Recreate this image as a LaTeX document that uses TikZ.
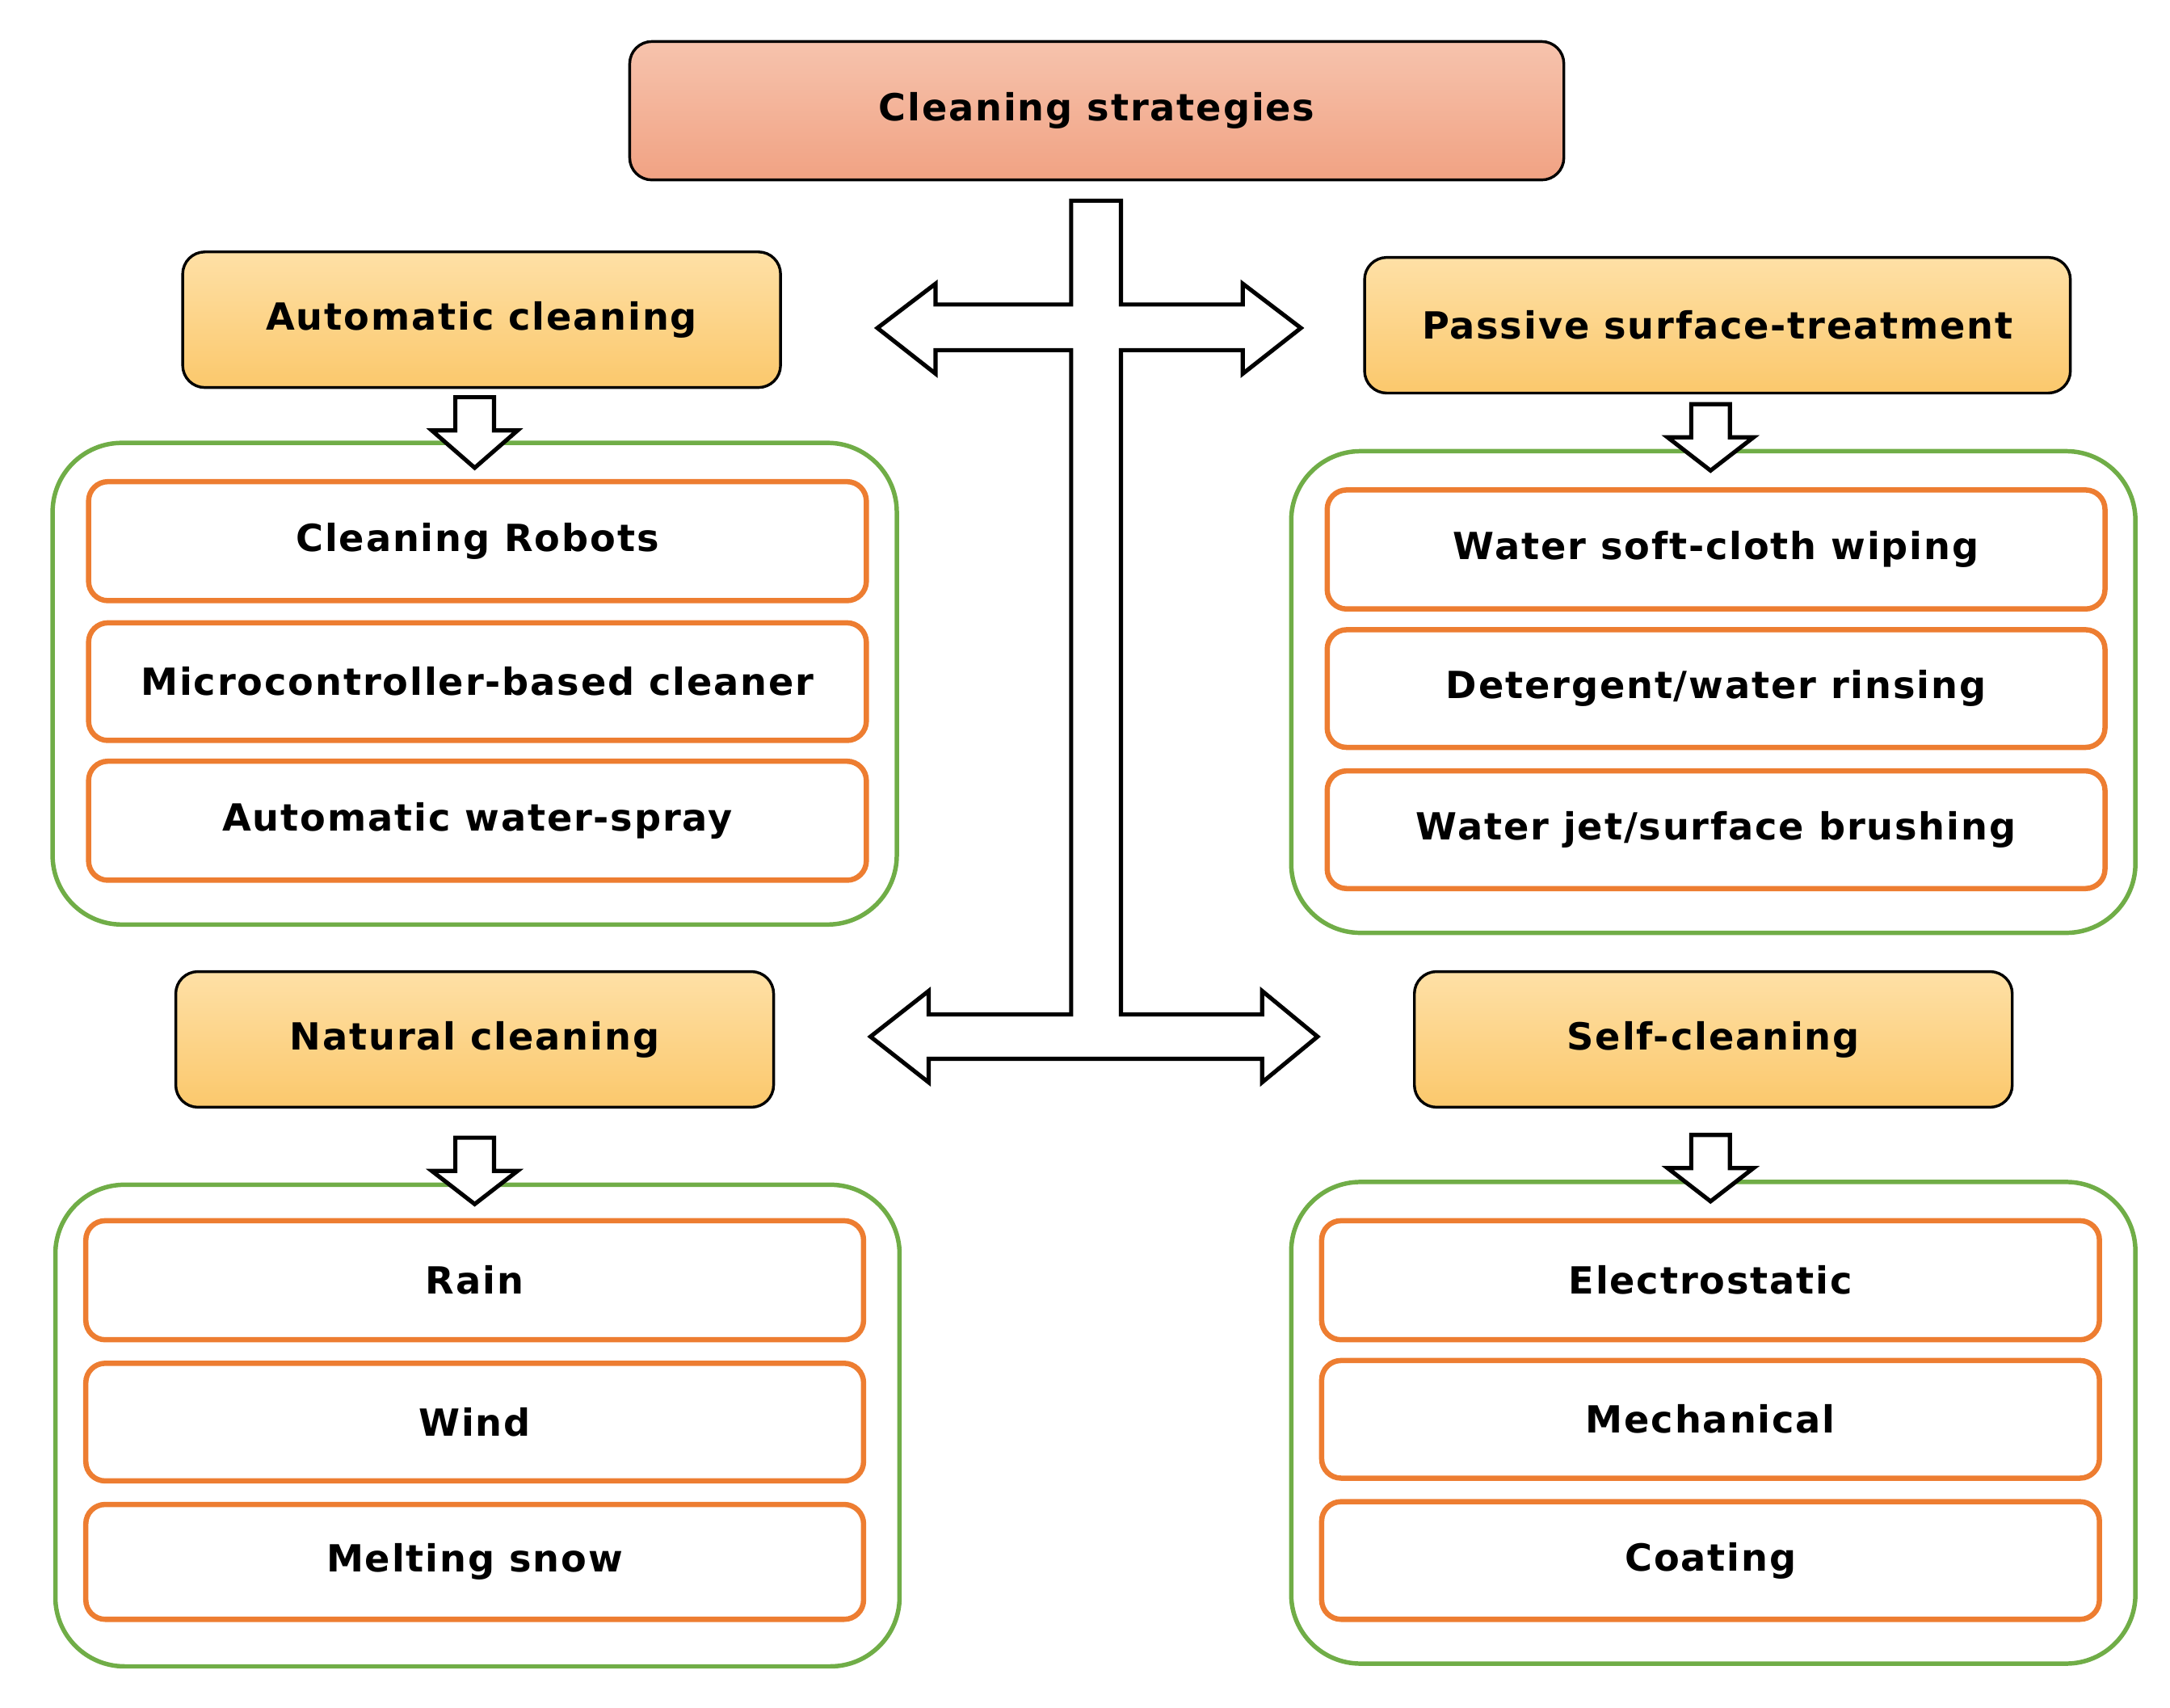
\documentclass[tikz,border=0pt]{standalone}
\usepackage{fontspec}
\setmainfont{DejaVu Sans}[LetterSpace=4]
\begin{document}
\begin{tikzpicture}[x=1pt,y=-1pt,
  hdr/.style={draw=black,line width=2pt,rounded corners=16pt,top color=hdrT,bottom color=hdrB,font=\fontsize{27}{32}\selectfont\bfseries},
  grp/.style={draw=grn,line width=3.2pt,rounded corners=50pt},
  item/.style={draw=org,line width=3.8pt,rounded corners=14pt,fill=white,font=\fontsize{27}{32}\selectfont\bfseries},
  blk/.style={draw=black,line width=3pt,fill=white,line join=miter}]
\definecolor{hdrT}{HTML}{FEE0A6}\definecolor{hdrB}{HTML}{FBC86C}
\definecolor{topT}{HTML}{F6C3AD}\definecolor{topB}{HTML}{F1A283}
\definecolor{grn}{HTML}{70AD47}\definecolor{org}{HTML}{ED7D31}
\useasboundingbox (0,0) rectangle (1568,1234);
\newcommand{\bx}[6]{\node[#1,minimum width=#4-#3,minimum height=#6-#5,inner sep=0pt] (#2) at ({(#3+#4)/2},{(#5+#6)/2})}
\bx{hdr,top color=topT,bottom color=topB}{top}{455}{1130}{30}{130}{Cleaning strategies};
\bx{hdr}{auto}{132}{564}{182}{280}{Automatic cleaning};
\bx{hdr}{pass}{986}{1496}{186}{284}{Passive surface-treatment};
\bx{hdr}{nat}{127}{559}{702}{800}{Natural cleaning};
\bx{hdr}{self}{1022}{1454}{702}{800}{Self-cleaning};
\bx{grp}{g1}{38}{648}{320}{668}{};
\bx{grp}{g2}{933}{1543}{326}{674}{};
\bx{grp}{g3}{40}{650}{856}{1204}{};
\bx{grp}{g4}{933}{1543}{854}{1202}{};
\bx{item}{a1}{64}{626}{348}{434}{Cleaning Robots};
\bx{item}{a2}{64}{626}{450}{535}{Microcontroller-based cleaner};
\bx{item}{a3}{64}{626}{550}{636}{Automatic water-spray};
\bx{item}{b1}{959}{1521}{354}{440}{Water soft-cloth wiping};
\bx{item}{b2}{959}{1521}{455}{540}{Detergent/water rinsing};
\bx{item}{b3}{959}{1521}{557}{642}{Water jet/surface brushing};
\bx{item}{c1}{62}{624}{882}{968}{Rain};
\bx{item}{c2}{62}{624}{985}{1070}{Wind};
\bx{item}{c3}{62}{624}{1087}{1170}{Melting snow};
\bx{item}{d1}{955}{1517}{882}{968}{Electrostatic};
\bx{item}{d2}{955}{1517}{983}{1068}{Mechanical};
\bx{item}{d3}{955}{1517}{1085}{1170}{Coating};
\newcommand{\darr}[3]{\draw[blk] (#1-14,#2) -- (#1+14,#2) -- (#1+14,#2+24) -- (#1+31,#2+24) -- (#1,#3) -- (#1-31,#2+24) -- (#1-14,#2+24) -- cycle;}
\darr{343}{287}{338}
\darr{1236}{292}{340}
\darr{343}{822}{870}
\darr{1236}{820}{868}
\draw[blk] (774,145)--(810,145)--(810,220)--(898,220)--(898,205)--(940,237)--(898,270)--(898,253)--(810,253)--(810,733)--(912,733)--(912,716)--(952,749)--(912,782)--(912,765)--(671,765)--(671,782)--(629,749)--(671,716)--(671,733)--(774,733)--(774,253)--(676,253)--(676,270)--(634,237)--(676,205)--(676,220)--(774,220)--cycle;
\end{tikzpicture}
\end{document}
